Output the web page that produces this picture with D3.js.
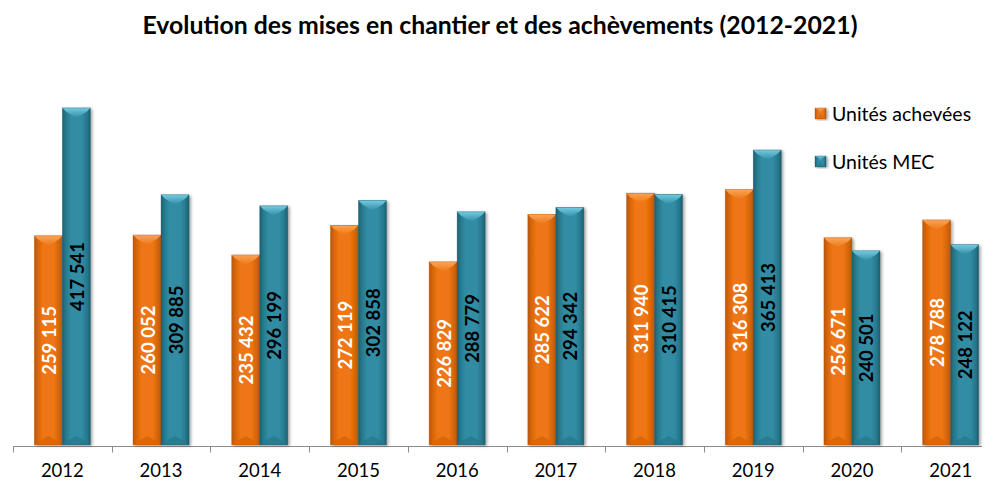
<!DOCTYPE html>
<html><head><meta charset="utf-8">
<script src="https://cdn.jsdelivr.net/npm/d3@7"></script>
<style>
html,body{margin:0;padding:0;background:#fff;}
svg{display:block;font-family:Lato,"Open Sans",sans-serif;}
</style></head>
<body>
<svg id="c" width="992" height="481"></svg>
<script>
const years = ["2012","2013","2014","2015","2016","2017","2018","2019","2020","2021"];
const unitesAchevees = [259115,260052,235432,272119,226829,285622,311940,316308,256671,278788];
const unitesMEC = [417541,309885,296199,302858,288779,294342,310415,365413,240501,248122];
const seriesNames = ["Unités achevées","Unités MEC"];
const title = "Evolution des mises en chantier et des achèvements (2012-2021)";

const svg = d3.select("#c");
const x = d3.scaleBand().domain(years).range([13, 1000]).paddingInner(0).paddingOuter(0);
const baseY = 445;
const y = d3.scaleLinear().domain([0, 450000]).range([baseY, baseY - 363.3]);
const barW = x.bandwidth() * 0.284;

const fmt = d3.formatLocale({decimal:",", thousands:" ", grouping:[3], currency:["","€"]}).format(",d");

const pal = [
  {main:"#ee7612", light:"#f9a458", dark:"#b9560a", edge:"#d46508", txt:"#ffffff"},
  {main:"#318ca3", light:"#72cbe2", dark:"#1c5e6e", edge:"#27788c", txt:"#000000"}
];

const defs = svg.append("defs");
pal.forEach((p,i)=>{
  const g = defs.append("linearGradient").attr("id","g"+i).attr("x1","0").attr("x2","1").attr("y1","0").attr("y2","0");
  g.append("stop").attr("offset","0").attr("stop-color",p.dark);
  g.append("stop").attr("offset","0.12").attr("stop-color",p.edge);
  g.append("stop").attr("offset","0.3").attr("stop-color",p.main);
  g.append("stop").attr("offset","0.7").attr("stop-color",p.main);
  g.append("stop").attr("offset","0.88").attr("stop-color",p.edge);
  g.append("stop").attr("offset","1").attr("stop-color",p.dark);
  const t = defs.append("linearGradient").attr("id","t"+i).attr("x1","0").attr("x2","0").attr("y1","0").attr("y2","1");
  t.append("stop").attr("offset","0").attr("stop-color",p.light);
  t.append("stop").attr("offset","1").attr("stop-color",p.main);
});
const f = defs.append("filter").attr("id","sh").attr("x","-20%").attr("y","-5%").attr("width","150%").attr("height","115%");
f.append("feDropShadow").attr("dx",2).attr("dy",1).attr("stdDeviation",1.5).attr("flood-color","#000").attr("flood-opacity",0.35);

// Title
svg.append("text").attr("x",500).attr("y",34).attr("text-anchor","middle")
  .attr("font-size",24.8).attr("font-weight","bold").attr("fill","#000").text(title);

// Axis
const axisY = baseY + 1.5;
svg.append("line").attr("x1",13).attr("x2",982).attr("y1",axisY).attr("y2",axisY)
  .attr("stroke","#8c8c8c").attr("stroke-width",1);
const tickXs = years.map(d=>x(d));
svg.selectAll(".tk").data(tickXs).enter().append("line")
  .attr("x1",d=>Math.round(d)+0.5).attr("x2",d=>Math.round(d)+0.5).attr("y1",axisY).attr("y2",axisY+6)
  .attr("stroke","#8c8c8c");
svg.selectAll(".yl").data(years).enter().append("text")
  .attr("x",d=>x(d)+x.bandwidth()/2).attr("y",476.5).attr("text-anchor","middle")
  .attr("font-size",18.5).attr("fill","#000").text(d=>d);

function bevelBar(g, x0, y0, w, h, i){
  const p = pal[i];
  const x1 = x0 + w, y1 = y0 + h, xc = x0 + w/2;
  const tb = Math.min(10, h/2), bb = Math.min(9, h/2), sb = 4;
  g.append("rect").attr("x",x0).attr("y",y0).attr("width",w).attr("height",h)
    .attr("fill",`url(#g${i})`).attr("filter","url(#sh)");
  g.append("path").attr("d",`M${x0},${y0}L${x1},${y0}L${x1-sb},${y0+tb*0.4}L${xc},${y0+tb}L${x0+sb},${y0+tb*0.4}Z`)
    .attr("fill",`url(#t${i})`);
  g.append("path").attr("d",`M${x0},${y1}L${x1},${y1}L${x1-sb},${y1-bb*0.4}L${xc},${y1-bb}L${x0+sb},${y1-bb*0.4}Z`)
    .attr("fill",p.edge).attr("opacity",0.8);
  g.append("rect").attr("x",x0).attr("y",y0).attr("width",w).attr("height",h)
    .attr("fill","none").attr("stroke",p.dark).attr("stroke-width",0.6).attr("opacity",0.6);
}

const series = [unitesAchevees, unitesMEC];
series.forEach((vals,i)=>{
  const g = svg.append("g");
  vals.forEach((v,j)=>{
    const x0 = x(years[j]) + (x.bandwidth() - 2*barW)/2 + i*barW;
    bevelBar(g, x0, y(v), barW, y(0)-y(v), i);
  });
});
series.forEach((vals,i)=>{
  vals.forEach((v,j)=>{
    const cx = x(years[j]) + (x.bandwidth() - 2*barW)/2 + i*barW + barW/2;
    const cy = (y(v)+y(0))/2;
    svg.append("text").attr("transform",`translate(${cx+7.5},${cy}) rotate(-90)`)
      .attr("text-anchor","middle").attr("font-size",18.5).attr("font-weight","bold")
      .attr("fill",pal[i].txt).text(fmt(v));
  });
});

// Legend
seriesNames.forEach((n,i)=>{
  const ly = [108,156][i];
  const g = svg.append("g");
  bevelBar(g, 815, ly, 11, 11, i);
  svg.append("text").attr("x",832).attr("y",ly+12.5).attr("font-size",19.5).attr("fill","#000").text(n);
});
</script>
</body></html>
